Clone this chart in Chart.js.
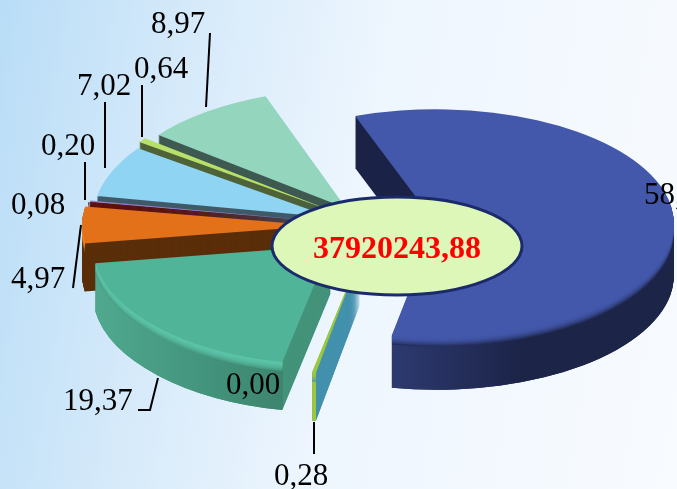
<!DOCTYPE html>
<html>
<head>
<meta charset="utf-8">
<script src="https://cdn.jsdelivr.net/npm/chart.js@4"></script>
<style>
html, body { margin: 0; padding: 0; width: 677px; height: 489px; overflow: hidden; }
body { background: linear-gradient(100deg, #b9ddf7 0%, #d6eafa 26%, #eef6fe 52%, #f8fbff 100%); }
canvas { display: block; }
</style>
</head>
<body>
<canvas id="pie" width="677" height="489"></canvas>
<script>
// Values in chart order, clockwise from the big blue slice
const shares = [58.47, 0.28, 0.00, 19.37, 4.97, 0.08, 0.20, 7.02, 0.64, 8.97];
const totalText = '37920243,88';

// Slice styling
const topColors = ['#4358ab', '#9cc840', '#888888', '#50b598', '#e2711a', '#5e1010', '#8e7fc0', '#8fd4f2', '#b7e06b', '#93d6bd'];
const rimColors = ['#4358ab', '#9cc840', '#888888', '#5cc4a8', '#ff8a20', '#5e1010', '#3f5a68', '#99ddfa', '#4f6339', '#3f5a52'];
const cutColors = ['#1c2448', '#4391ad', '#888888', '#43937a', '#5b2e0a', '#5e1010', '#5e1010', '#3f5a68', '#4f6339', '#3f5a52'];
const sliceOffsets = [64, 61, 60, 57, 52, 50, 48, 44, 49, 44];
const sliceSquash = [0.48, 0.5, 0.5, 0.5, 0.5, 0.5, 0.5, 0.5, 0.5, 0.5];
const sliceDepth = [52, 48, 48, 48, 48, 48, 48, 48, 48, 48];

// Label placement: x, baseline y
const labelSpots = [[644, 204], [274, 485], [226, 394], [63, 410], [11, 288], [11, 214], [41, 155], [77, 95], [134, 78], [151, 33]];
// Leader lines, one polyline per label
const leaders = [
    null,
    [[314, 422], [314, 454]],
    null,
    [[158, 378], [150, 410], [138, 410]],
    [[81, 225], [73, 288]],
    null,
    [[85, 162], [85, 200]],
    [[105, 102], [105, 168]],
    [[142, 85], [142, 137]],
    [[210, 33], [206, 107]]
];

const BEVEL = 9;

function mixColor(a, b, t) {
    const pa = parseInt(a.slice(1), 16), pb = parseInt(b.slice(1), 16);
    const ch = s => Math.round(((pa >> s) & 255) * (1 - t) + ((pb >> s) & 255) * t);
    return `rgb(${ch(16)}, ${ch(8)}, ${ch(0)})`;
}

// Shading of the round outer wall (x in page pixels)
function frontStyle(ctx, index, shiftX) {
    let g;
    if (index === 0) {
        g = ctx.createLinearGradient(392 - shiftX, 0, 520 - shiftX, 0);
        g.addColorStop(0, '#2d3a70');
        g.addColorStop(1, '#1c2448');
        return g;
    }
    if (index === 1) return '#9cc840';
    if (index === 3) {
        g = ctx.createLinearGradient(100 - shiftX, 0, 283 - shiftX, 0);
        g.addColorStop(0, '#4fa88d');
        g.addColorStop(0.6, '#42937b');
        g.addColorStop(1, '#3e846f');
        return g;
    }
    return cutColors[index];
}

function drawSlice(ctx, arc, index, dropY, fill) {
    const mid = (arc.startAngle + arc.endAngle) / 2;
    const off = sliceOffsets[index];
    const saved = arc.options;
    arc.options = { backgroundColor: fill, borderWidth: 0, offset: 0, spacing: 0, circular: true, borderAlign: 'center' };
    ctx.save();
    ctx.translate(arc.x, arc.y + dropY);
    ctx.scale(1, sliceSquash[index]);
    ctx.translate(-arc.x, -arc.y);
    ctx.translate(Math.cos(mid) * off, Math.sin(mid) * off);
    arc.draw(ctx);
    ctx.restore();
    arc.options = saved;
}

// Limit drawing to what can only be the round wall: below the top face,
// and between the corners of the slice that lie in the lower half
function clipToFront(ctx, chart, arc, index) {
    const mid = (arc.startAngle + arc.endAngle) / 2;
    const off = sliceOffsets[index];
    const apexX = arc.x + Math.cos(mid) * off;
    const apexY = arc.y + Math.sin(mid) * off * sliceSquash[index];
    const r = arc.outerRadius;
    let left = 0, right = chart.width;
    if (Math.sin(arc.startAngle) > 0) right = apexX + Math.cos(arc.startAngle) * r;
    if (Math.sin(arc.endAngle) > 0) left = apexX + Math.cos(arc.endAngle) * r;
    ctx.beginPath();
    ctx.rect(left, 0, right - left, chart.height);
    ctx.clip();
    ctx.beginPath();
    ctx.rect(0, 0, chart.width, chart.height);
    ctx.ellipse(apexX, apexY, r - 1, (r - 1) * sliceSquash[index], 0, 0, Math.PI * 2);
    ctx.clip('evenodd');
}

const tiltedPie = {
    id: 'tiltedPie',
    beforeDatasetsDraw(chart) {
        const ctx = chart.ctx;
        const arcs = chart.getDatasetMeta(0).data;
        // back slices first so the front ones cover their walls
        for (let i = arcs.length - 1; i >= 0; i--) {
            const arc = arcs[i];
            const mid = (arc.startAngle + arc.endAngle) / 2;
            for (let d = sliceDepth[i]; d > 0; d--) drawSlice(ctx, arc, i, d, cutColors[i]);

            ctx.save();
            clipToFront(ctx, chart, arc, i);
            const front = frontStyle(ctx, i, Math.cos(mid) * sliceOffsets[i]);
            for (let d = sliceDepth[i]; d > 0; d--) drawSlice(ctx, arc, i, d, front);
            for (let d = BEVEL; d > 0; d--) {
                drawSlice(ctx, arc, i, d, mixColor(rimColors[i], cutColors[i], (d / BEVEL) * (d / BEVEL) * 0.8));
            }
            ctx.restore();

            drawSlice(ctx, arc, i, 0, topColors[i]);
        }
        return false;
    },
    afterDraw(chart) {
        const ctx = chart.ctx;
        ctx.save();

        // leader lines
        ctx.strokeStyle = '#000';
        ctx.lineWidth = 2;
        leaders.forEach(points => {
            if (!points) return;
            ctx.beginPath();
            points.forEach((p, i) => i ? ctx.lineTo(p[0], p[1]) : ctx.moveTo(p[0], p[1]));
            ctx.stroke();
        });

        // value labels
        ctx.fillStyle = '#000';
        ctx.font = '31px "Liberation Serif"';
        ctx.textBaseline = 'alphabetic';
        shares.forEach((v, i) => {
            ctx.fillText(v.toFixed(2).replace('.', ','), labelSpots[i][0], labelSpots[i][1]);
        });

        // total in the centre
        ctx.beginPath();
        ctx.ellipse(397, 246, 125, 49, 0, 0, Math.PI * 2);
        ctx.fillStyle = '#dcf7b8';
        ctx.fill();
        ctx.lineWidth = 3;
        ctx.strokeStyle = '#1b2a6b';
        ctx.stroke();
        ctx.fillStyle = '#ff0000';
        ctx.font = 'bold 32px "Liberation Serif"';
        ctx.textAlign = 'center';
        ctx.fillText(totalText, 397, 258);
        ctx.restore();
    }
};

new Chart(document.getElementById('pie'), {
    type: 'pie',
    data: {
        labels: shares.map(v => v.toFixed(2)),
        datasets: [{ data: shares, backgroundColor: topColors, borderWidth: 0, radius: 238 }]
    },
    options: {
        responsive: false,
        animation: false,
        rotation: -19.8,
        // puts the pie centre at 372,226
        layout: { padding: { left: 67, bottom: 37 } },
        plugins: { legend: { display: false }, tooltip: { enabled: false } }
    },
    plugins: [tiltedPie]
});
</script>
</body>
</html>
